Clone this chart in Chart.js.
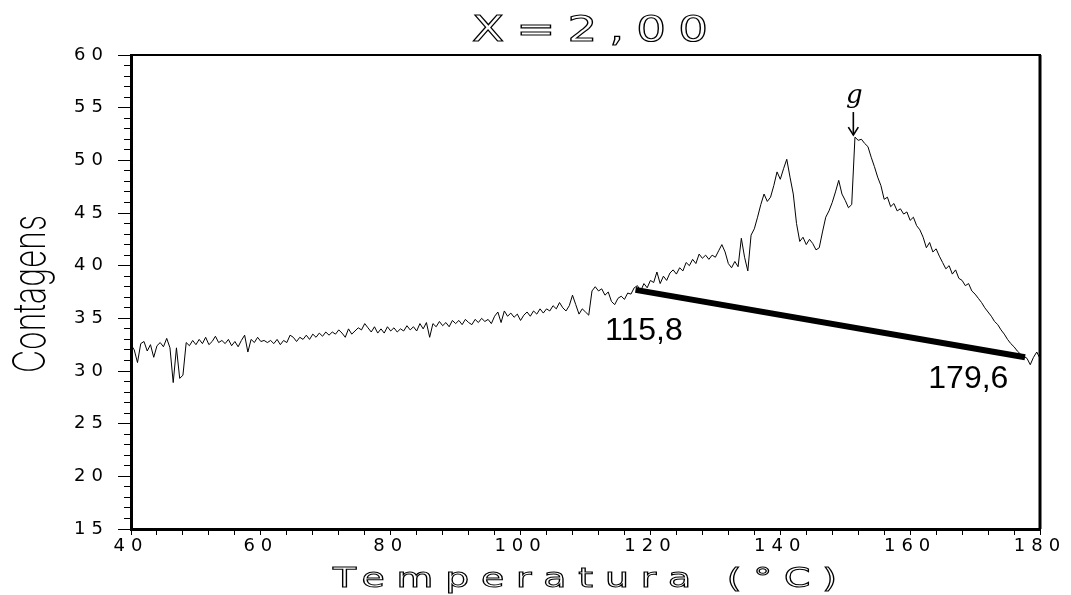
<!DOCTYPE html>
<html><head><meta charset="utf-8">
<script src="https://cdn.jsdelivr.net/npm/chart.js@4.4.1/dist/chart.umd.min.js"></script>
<style>html,body{margin:0;padding:0;background:#fff;overflow:hidden}canvas{display:block}</style>
</head><body>
<canvas id="c" width="1071" height="595"></canvas>
<script>
// ---- data ----
const temperatures = [
40,40.5,41,41.5,42,42.5,43,43.5,44,44.5,
45,45.5,46,46.5,47,47.5,48,48.5,49,49.5,
50,50.5,51,51.5,52,52.5,53,53.5,54,54.5,
55,55.5,56,56.5,57,57.5,58,58.5,59,59.5,
60,60.5,61,61.5,62,62.5,63,63.5,64,64.5,
65,65.5,66,66.5,67,67.5,68,68.5,69,69.5,
70,70.5,71,71.5,72,72.5,73,73.5,74,74.5,
75,75.5,76,76.5,77,77.5,78,78.5,79,79.5,
80,80.5,81,81.5,82,82.5,83,83.5,84,84.5,
85,85.5,86,86.5,87,87.5,88,88.5,89,89.5,
90,90.5,91,91.5,92,92.5,93,93.5,94,94.5,
95,95.5,96,96.5,97,97.5,98,98.5,99,99.5,
100,100.5,101,101.5,102,102.5,103,103.5,104,104.5,
105,105.5,106,106.5,107,107.5,108,108.5,109,109.5,
110,110.5,111,111.5,112,112.5,113,113.5,114,114.5,
115,115.5,116,116.5,117,117.5,118,118.5,119,119.5,
120,120.5,121,121.5,122,122.5,123,123.5,124,124.5,
125,125.5,126,126.5,127,127.5,128,128.5,129,129.5,
130,130.5,131,131.5,132,132.5,133,133.5,134,134.5,
135,135.5,136,136.5,137,137.5,138,138.5,139,139.5,
140,140.5,141,141.5,142,142.5,143,143.5,144,144.5,
145,145.5,146,146.5,147,147.5,148,148.5,149,149.5,
150,150.5,151,151.5,152,152.5,153,153.5,154,154.5,
155,155.5,156,156.5,157,157.5,158,158.5,159,159.5,
160,160.5,161,161.5,162,162.5,163,163.5,164,164.5,
165,165.5,166,166.5,167,167.5,168,168.5,169,169.5,
170,170.5,171,171.5,172,172.5,173,173.5,174,174.5,
175,175.5,176,176.5,177,177.5,178,178.5,179,179.5,
180];
const counts = [
32.5,32.0,30.8,32.6,32.8,31.9,32.5,31.3,32.4,32.7,
32.3,33.1,32.2,28.9,32.2,29.3,29.6,32.7,32.4,32.9,
32.5,33.0,32.6,33.2,32.5,32.8,33.3,32.7,32.9,32.6,
33.0,32.4,32.8,32.3,32.9,33.4,31.8,33.0,32.7,33.2,
32.8,32.9,32.7,32.9,32.6,33.0,32.5,32.9,32.7,33.4,
33.2,32.8,33.2,33.0,33.4,33.0,33.5,33.2,33.6,33.3,
33.7,33.4,33.7,33.5,33.9,33.6,33.2,34.0,33.5,33.8,
34.1,33.9,34.5,34.1,33.7,34.2,33.6,34.0,33.6,34.2,
33.8,34.1,33.7,34.0,33.8,34.3,33.9,34.2,33.8,34.5,
34.0,34.6,33.2,34.5,34.2,34.7,34.3,34.6,34.2,34.8,
34.5,34.8,34.4,34.9,34.6,34.4,34.9,34.6,35.0,34.7,
34.9,34.5,35.2,35.6,34.6,35.7,35.2,35.5,35.1,35.4,
34.8,35.3,35.6,35.2,35.7,35.4,35.9,35.5,35.9,35.7,
36.2,35.9,36.5,36.0,35.7,36.2,37.2,36.3,35.4,35.9,
35.6,35.3,37.6,38.0,37.6,37.8,37.2,37.5,36.6,36.3,
36.9,37.1,36.8,37.4,37.3,37.9,38.1,37.6,38.3,37.9,
38.6,38.4,39.4,38.3,39.0,38.6,39.3,39.6,39.2,39.8,
39.5,40.3,40.0,40.6,40.2,41.1,40.7,41.0,40.6,41.0,
40.8,41.4,42.0,41.3,40.2,39.8,40.4,39.9,42.6,40.8,
39.5,42.9,43.5,44.6,45.8,46.8,46.1,46.5,47.6,48.9,
48.2,49.2,50.1,48.4,46.8,44.0,42.3,42.7,42.0,42.5,
42.1,41.5,41.7,43.2,44.6,45.2,46.0,47.0,48.1,46.8,
46.2,45.5,45.8,52.2,51.9,52.0,51.6,51.3,50.3,49.4,
48.4,47.6,46.3,46.5,45.6,45.9,45.2,45.4,44.9,45.1,
44.3,44.6,43.8,43.4,42.7,41.7,42.2,41.3,41.6,40.9,
40.3,39.7,40.0,39.2,39.6,38.8,38.6,38.1,38.3,37.6,
37.3,36.9,36.5,36.0,35.6,35.2,34.7,34.4,33.9,33.5,
33.0,32.6,32.3,31.9,31.6,31.4,31.2,30.6,31.3,31.8,
31.2];
const baselineT = [117.7, 177.7];
const baselineC = [37.7, 31.3];
const xTickLabels = [40, 60, 80, 100, 120, 140, 160, 180];
const yTickLabels = [15, 20, 25, 30, 35, 40, 45, 50, 55, 60];
const titleText = 'X=2,00';
const xAxisTitle = 'Temperatura (°C)';
const yAxisTitle = 'Contagens';
const limitLabels = ['115,8', '179,6'];
const limitLabelT = [113.0, 162.8];
const limitLabelC = [32.9, 28.4];
const peakLabel = 'g';
const peakT = [151.25];
const peakC = [52.4];

const points = temperatures.map((t, i) => ({x: t, y: counts[i]}));
const basePts = baselineT.map((t, i) => ({x: t, y: baselineC[i]}));

function drawWide(ctx, text, cx, baseline, font, width, hscale, mode) {
  ctx.save();
  ctx.font = font;
  ctx.letterSpacing = '0px';
  const w0 = ctx.measureText(text).width;
  const n = Math.max(1, text.length - 1);
  const sp = (width / hscale - w0) / n;
  ctx.letterSpacing = sp + 'px';
  ctx.textAlign = 'left';
  ctx.textBaseline = 'alphabetic';
  ctx.translate(cx - width / 2, baseline);
  ctx.scale(hscale, 1);
  if (mode.fill) { ctx.fillStyle = mode.fill; ctx.fillText(text, 0, 0); }
  if (mode.stroke) { ctx.strokeStyle = mode.stroke; ctx.lineWidth = mode.lw || 1; ctx.strokeText(text, 0, 0); }
  ctx.restore();
}

const decor = {
  id: 'decor',
  beforeDraw(chart) { chart.ctx.letterSpacing = '6px'; },
  beforeDatasetsDraw(chart) { chart.ctx.letterSpacing = '0px'; },
  afterDraw(chart) {
    const {ctx, chartArea: a, scales: {x, y}} = chart;
    ctx.save();
    ctx.letterSpacing = '0px';
    ctx.strokeStyle = '#000';
    ctx.lineWidth = 2;
    ctx.beginPath(); ctx.moveTo(a.left, a.top); ctx.lineTo(a.right + 1, a.top); ctx.stroke();
    ctx.lineWidth = 3;
    ctx.beginPath(); ctx.moveTo(a.right, a.top); ctx.lineTo(a.right, a.bottom); ctx.stroke();

    // title
    drawWide(ctx, titleText, 590, 41, '36px "DejaVu Sans"', 236, 1.3, {stroke: '#000', lw: 1.1});
    // x axis title
    drawWide(ctx, xAxisTitle, 585, 587, '27px "DejaVu Sans"', 504, 1.4, {stroke: '#000', lw: 1});
    // y axis title
    ctx.save();
    ctx.font = '200 45px Inter, Lato, "Liberation Sans Narrow", sans-serif';
    const w = ctx.measureText(yAxisTitle).width;
    ctx.translate(45, 294);
    ctx.rotate(-Math.PI / 2);
    ctx.scale(158 / w, 1);
    ctx.textAlign = 'center';
    ctx.textBaseline = 'alphabetic';
    ctx.fillStyle = '#000';
    ctx.fillText(yAxisTitle, 0, 0);
    ctx.restore();

    // limit labels
    ctx.fillStyle = '#000';
    ctx.font = '32px "Liberation Sans", Arial, sans-serif';
    ctx.textAlign = 'left';
    ctx.textBaseline = 'alphabetic';
    limitLabels.forEach((s, i) => {
      ctx.fillText(s, x.getPixelForValue(limitLabelT[i]), y.getPixelForValue(limitLabelC[i]));
    });

    // peak marker
    const px = x.getPixelForValue(peakT[0]);
    const tip = y.getPixelForValue(peakC[0]);
    ctx.lineWidth = 1.6;
    ctx.beginPath(); ctx.moveTo(px, tip - 23); ctx.lineTo(px, tip); ctx.stroke();
    ctx.beginPath(); ctx.moveTo(px - 5, tip - 8); ctx.lineTo(px, tip); ctx.lineTo(px + 5, tip - 8); ctx.stroke();
    ctx.font = 'italic 26px "DejaVu Serif", serif';
    ctx.textAlign = 'center';
    ctx.fillText(peakLabel, px + 1, tip - 32);
    ctx.restore();
  }
};

new Chart(document.getElementById('c'), {
  type: 'line',
  data: {
    datasets: [
      {label: 'Contagens', data: points, borderColor: '#000', borderWidth: 1, pointRadius: 0, tension: 0},
      {label: 'Linha de base', data: basePts, borderColor: '#000', borderWidth: 6, pointRadius: 0, borderCapStyle: 'butt'}
    ]
  },
  options: {
    responsive: false,
    animation: false,
    devicePixelRatio: 1,
    layout: {padding: {top: 55, right: 31, left: 0, bottom: 0}},
    plugins: {legend: {display: false}, tooltip: {enabled: false}, title: {display: false}},
    scales: {
      x: {
        type: 'linear', min: 40, max: 180,
        afterFit: s => { s.height = 66; },
        border: {display: true, color: '#000', width: 3},
        grid: {drawOnChartArea: false, drawTicks: true, tickLength: 6, tickColor: '#000', tickWidth: 1},
        ticks: {
          stepSize: 4, autoSkip: false, maxRotation: 0, padding: 1, color: '#000',
          font: {family: '"DejaVu Sans"', size: 18},
          callback: v => xTickLabels.includes(v) ? String(v) : ''
        }
      },
      y: {
        type: 'linear', min: 15, max: 60,
        afterFit: s => { s.width = 131; },
        border: {display: true, color: '#000', width: 3},
        grid: {
          drawOnChartArea: false, drawTicks: true, tickLength: 13, tickColor: '#000', tickWidth: 1,
          tickBorderDash: c => (c.tick && yTickLabels.includes(c.tick.value)) ? [] : [0, 6, 7, 0]
        },
        ticks: {
          stepSize: 1, autoSkip: false, padding: 9, color: '#000',
          font: {family: '"DejaVu Sans"', size: 18},
          callback: v => yTickLabels.includes(v) ? String(v) : ''
        }
      }
    }
  },
  plugins: [decor]
});
</script>
</body></html>
